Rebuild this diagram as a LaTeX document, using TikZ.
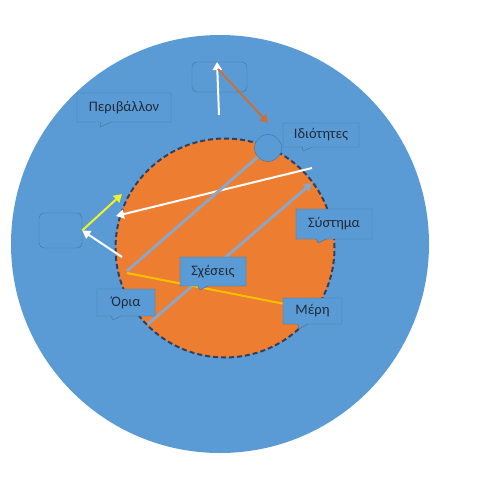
\documentclass[tikz,border=0pt]{standalone}
\usepackage{fontspec}
\setmainfont{Carlito}
\usetikzlibrary{shapes.callouts,arrows.meta}
\definecolor{envblue}{HTML}{5B9BD5}
\definecolor{sysorange}{HTML}{ED7D31}
\definecolor{rimblue}{HTML}{41719C}
\definecolor{dashnavy}{HTML}{2E4160}
\definecolor{linkgray}{HTML}{8FA5C2}
\definecolor{goldline}{HTML}{FFC000}
\definecolor{rustarrow}{HTML}{C8703A}
\definecolor{brightyellow}{HTML}{F0F228}
\definecolor{inkdark}{HTML}{1F2B3A}
\pgfdeclarelayer{disc}
\pgfdeclarelayer{link}
\pgfsetlayers{disc,link,main}

\begin{document}
\begin{tikzpicture}[x=1pt, y=-1pt,
  tagbox/.style={rectangle callout, draw=rimblue, fill=envblue, text=inkdark,
    font=\fontsize{14.5}{16}\selectfont, inner sep=0pt, callout pointer width=10pt},
  blankbox/.style={draw=rimblue, fill=envblue, rounded corners=5pt},
  flow/.style={line width=2pt, -{Triangle[length=8pt,width=9pt]}}]
  \useasboundingbox (0,0) rectangle (478,489);

  % discs, small circle and empty boxes
  \begin{pgfonlayer}{disc}
    \fill[white] (0,0) rectangle (478,489);
    \node[circle, fill=envblue, inner sep=0pt, minimum size=418pt] (env) at (220,244) {};
    \node[circle, fill=sysorange, draw=dashnavy, dash pattern=on 5pt off 3pt, line width=2pt,
      inner sep=0pt, minimum size=219pt] (sys) at (225,248) {};
    \node[circle, draw=rimblue, fill=envblue, inner sep=0pt, minimum size=27pt] (prop) at (268,148) {};
    \node[blankbox, minimum width=55pt, minimum height=30pt] (topbox) at (219.5,77) {};
    \node[blankbox, minimum width=43pt, minimum height=35pt] (leftbox) at (60.5,230.5) {};
  \end{pgfonlayer}

  % labels
  \node[tagbox, minimum width=94pt, minimum height=29pt, callout absolute pointer={(100,127)}]
    (perival) at (124,107.5) {Περιβάλλον};
  \node[tagbox, minimum width=76pt, minimum height=24pt, callout absolute pointer={(303,151)}]
    (idiot) at (321,135) {Ιδιότητες};
  \node[tagbox, minimum width=76pt, minimum height=30pt, callout absolute pointer={(318,243)}]
    (systima) at (334,224) {Σύστημα};
  \node[tagbox, minimum width=66pt, minimum height=29pt, callout absolute pointer={(200,290)}]
    (sxeseis) at (213,271.5) {Σχέσεις};
  \node[tagbox, minimum width=58pt, minimum height=27pt, callout absolute pointer={(113,320)}]
    (oria) at (126,302.5) {Όρια};
  \node[tagbox, minimum width=59pt, minimum height=26pt, callout absolute pointer={(299,329)}]
    (meri) at (312.5,311) {Μέρη};

  % free ends
  \coordinate (upfoot) at (219,115);
  \coordinate (uptip) at (217,62);
  \coordinate (rustfoot) at (218,69);
  \coordinate (propin) at (268,123);
  \coordinate (yellowtip) at (122,194);
  \coordinate (rimout) at (122,257);
  \coordinate (crossstart) at (312,168);
  \coordinate (crossend) at (116,216);
  \coordinate (bndlow) at (127,271);
  \coordinate (bndgold) at (127,273);
  \coordinate (graystart) at (148,324);
  \coordinate (grayend) at (312,183);

  % connectors
  \begin{pgfonlayer}{link}
    \draw[flow, white] (upfoot) -- (uptip);
    \draw[flow, rustarrow] (rustfoot) -- (propin);
    \draw[flow, brightyellow] (leftbox.east) -- (yellowtip);
    \draw[flow, white] (rimout) -- (leftbox.east);
    \draw[flow, white] (crossstart) -- (crossend);
    \draw[line width=3pt, linkgray] (bndlow) -- (prop);
    \draw[flow, line width=3pt, linkgray] (graystart) -- (grayend);
    \draw[line width=2pt, goldline] (bndgold) -- (meri);
  \end{pgfonlayer}
\end{tikzpicture}
\end{document}
